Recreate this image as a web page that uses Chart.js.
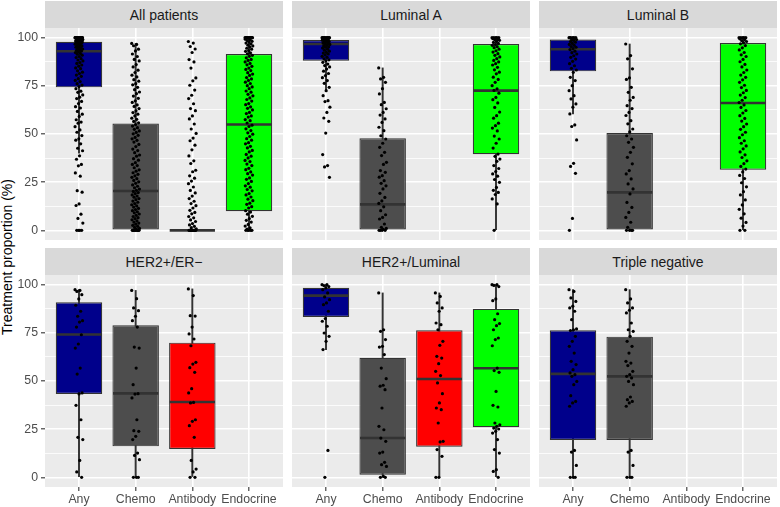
<!DOCTYPE html>
<html>
<head>
<meta charset="utf-8">
<script src="https://cdn.jsdelivr.net/npm/chart.js@4.4.0/dist/chart.umd.min.js"></script>
<style>
  html, body { margin: 0; padding: 0; background: #ffffff; }
  body { width: 780px; height: 507px; overflow: hidden; position: relative; font-family: "Liberation Sans", Arial, sans-serif; }
  .strip { position: absolute; background: #D9D9D9; color: #1A1A1A; font-size: 14px; display: flex; align-items: center; justify-content: center; }
  canvas { position: absolute; }
  #ytitle { position: absolute; left: 7px; top: 257px; transform: translate(-50%, -50%) rotate(-90deg); font-size: 14px; color: #000; white-space: nowrap; }
</style>
</head>
<body>
<div id="ytitle">Treatment proportion (%)</div>
<script>
// ---------------- DATA ----------------
const categories = ['Any', 'Chemo', 'Antibody', 'Endocrine'];
const panelTitles = ['All patients', 'Luminal A', 'Luminal B', 'HER2+/ER\u2212', 'HER2+/Luminal', 'Triple negative'];
const yMajorTicks = [0, 25, 50, 75, 100];
const yMinorTicks = [12.5, 37.5, 62.5, 87.5];

// box statistics per panel, per category (null = no data)
const boxQ1      = [[74.2, 0, 0, 9.9], [88.0, 0, null, 39.5], [82.5, 0, null, 31.5], [43.3, 16.1, 14.7, null], [83.2, 1.4, 15.9, 26.0], [19.4, 19.4, null, null]];
const boxMedian  = [[92.9, 20.4, 0, 54.9], [96.7, 13.5, null, 72.5], [94.0, 19.7, null, 66.1], [74.1, 43.6, 39.1, null], [94.3, 20.4, 51.0, 56.6], [53.7, 52.4, null, null]];
const boxQ3      = [[97.9, 55.4, 0, 91.5], [98.8, 47.8, null, 96.7], [99.0, 50.5, null, 97.2], [90.8, 78.9, 69.9, null], [98.4, 62.0, 76.3, 87.4], [76.3, 73.0, null, null]];
const whiskerLow = [[40, 0, 0, 0], [72, 0, null, 0], [60.4, 0, null, 0], [0, 0, 0, null], [66.3, 0, 0, 0], [0, 0, null, null]];
const whiskerHigh= [[100, 97, 0, 100], [100, 84.3, null, 100], [100, 96.7, null, 100], [97.4, 97, 97.8, null], [100, 95.7, 95.7, 100], [97.4, 97.4, null, null]];

const allAny = [100,100,100,100,100,100,100,100,100,100,100,100,100,100,100,100,100,100,
  99.6,99.3,99.1,99,98.8,98.7,98.5,98.4,98.2,98,98,97.8,97.6,97.3,97.1,96.9,96.6,96.2,95.9,95.7,95.3,95,94.8,94.4,94.1,93.8,93.4,93.1,92.7,92.3,91.8,91.4,90.9,90.2,89.7,89.1,88.4,87.9,87.1,86.6,85.8,85.2,84.3,83.9,82.8,82.1,81.4,80.6,79.9,78.7,77.8,77.2,76.1,75.4,74.6,73.5,72.2,71.6,70.3,69.1,68.4,66.9,65.8,64.2,63.5,61.7,60.3,59.1,57.4,56.2,55.6,53.8,52.1,50.9,49.2,47.5,46.8,44.9,42.6,41.3,38.7,36.9,34.2,33.5,29.8,28.1,20.6,19.8,13.7,12.9,8.4,6.2,3.8,0,0,0,0];
const allChemo = [97,96.5,95.8,94,93.1,91.5,90.2,88.7,87.9,86,84.8,83.1,81.9,80.5,79.6,78.2,77.4,76.1,75.5,74.2,73,71.8,70.9,69.7,68.5,67.2,66.4,65.1,64.3,63.2,62,61.1,60.3,59.4,58.2,57.6,56.5,55.8,54.9,54.1,53.3,52.4,51.6,50.8,50.1,49.3,48.2,47.5,46.7,45.8,44.6,43.5,42.2,41.4,40.3,39.1,38.5,37.2,36.4,35.1,34.2,33.6,32.5,31.4,30.7,29.9,29.1,28.3,27.5,26.8,25.9,25.2,24.4,23.6,22.9,22.1,21.4,20.8,20.2,19.6,19.1,18.4,17.8,17.2,16.5,15.9,15.2,14.6,13.9,13.3,12.7,12.1,11.4,10.8,10.2,9.6,9.1,8.5,7.8,7.2,6.6,6.1,5.5,4.9,4.3,3.8,3.2,2.6,2.1,1.5,1,0.5,0,0,0,0,0,0,0,0,0,0];
const allAntibody = [98,97.2,95.4,94.1,92.3,88.6,87.4,84.2,79.1,77.6,75.3,72.8,70.1,68.4,65.7,63.2,62.1,59.4,57.8,55.2,52.6,50.3,47.9,46.5,44.2,41.8,38.6,36.1,34.7,31.2,30.4,28.3,27.1,25.6,24.2,22.5,20.7,19.4,17.8,16.5,15.1,13.9,12.8,11.6,10.4,9.3,8.6,7.2,6.5,5.4,4.6,3.5,2.8,2.1,1.4,0.8,0,0,0,0,0,0,0,0,0,0,0,0];
const allEndocrine = [100,100,100,100,100,100,100,100,100,100,100,100,
  99.7,99.2,98.9,98.5,98.1,97.7,97.2,96.8,96.1,95.7,95.2,94.5,94,93.3,92.9,92.1,91.6,90.8,90.3,89.5,88.7,88.2,87.4,86.6,85.9,85.1,84.2,83.5,82.9,81.8,81.1,80.4,79.3,78.6,77.8,76.9,76.2,75.1,74.4,73.5,72.3,71.7,70.6,69.8,68.7,67.9,67.1,65.8,65.2,64.1,63.3,62.5,61.2,60.6,59.4,58.8,57.5,56.9,55.7,54.6,53.9,52.7,51.8,50.6,49.9,48.7,47.6,46.8,45.5,44.9,43.6,42.8,41.5,40.7,39.4,38.5,37.6,36.3,35.7,34.4,33.6,32.2,31.5,30.3,29.4,28.7,27.2,26.5,25.4,24.3,23.1,22.4,21.2,20.5,19.1,18.4,17.3,16.2,15.4,14.1,13.5,12.3,11.6,10.2,9.5,8.4,7.3,6.1,5.2,4.3,3.1,2.2,1.3,0.6,0,0,0,0,0];

const lumAAny = [100,100,100,100,100,100,100,100,100,99.5,99,99,99,98.7,98.5,98,98,97.6,97.2,97,96.8,96.5,96,95.7,95.2,95,94.6,94,93.5,93,92.4,92,91.5,91,90.3,89.8,89,88.5,88,87.2,86.3,85.5,84.8,83.7,82.6,81.4,80.3,79.2,77.7,76.3,74.2,72.5,69.9,67.3,66.8,63.9,61.2,58.3,56.6,50.5,39.3,33.6,32.9,27.5];
const lumAChemo = [84.3,79.4,78.6,76.8,73.5,70.8,66.4,65.2,63.1,61.2,59.8,57.8,56,53.5,51.7,49.1,47.4,45.2,43.1,40.5,38.8,35.3,34.2,31,30.1,28.4,27.6,25.8,24.4,23.1,21.5,19.2,17.1,15.3,14,12.2,10.2,8.1,6.7,5.9,3.3,1.6,1,0.5,0,0,0,0];
const lumAEndocrine = [100,100,100,100,100,99.5,99,99,98.6,98,97.5,97,96.4,96,95.3,94.8,94,93.2,92.5,91.7,90.8,90,89.1,88.2,87.4,86.5,85.8,84.6,83.3,82.1,81.2,79.5,78.3,76.8,75.1,73.4,72.6,71.2,69,67.8,66.1,63.8,61.4,59.5,58.2,55.6,54.3,53.1,51.6,48.9,47.4,45.2,42.7,39.6,38.4,37,35.8,33.6,32.1,30.5,29.3,28.1,26.4,24.9,22.3,20.8,19.7,18.6,16.3,13.7,0];

const lumBAny = [100,100,100,100,100,100,99.5,99,99,98.6,98,97.6,97,96.5,96,95.4,95,94.3,93.8,93,92.2,91.5,90.6,89.8,88.9,87.7,86.5,85.4,84.1,83.2,82,79.4,77.7,75.1,72.5,69.9,68.2,65.6,63.9,60.4,54.7,53.9,46.9,34.8,33.2,29.6,6.2,0];
const lumBChemo = [96.7,90.7,89,83.8,79.1,78.3,74.2,71.6,69,67.5,64.7,63.2,61.2,59.6,56.9,55.3,52.6,51.1,49.1,47.4,45.7,43.1,40.5,37.9,34.5,31,29.3,26.7,24.1,21.5,18.9,14.5,11.9,9.3,6.7,4.2,1.6,0,0,0,0];
const lumBEndocrine = [100,100,100,100,100,99.4,99,98.5,98,97.4,96.8,95.9,94.7,93.6,92.3,91.1,90.2,88.7,87.5,86.1,84.8,83.2,81.9,80.6,79.4,78.1,76.8,75.3,74.1,72.6,71.4,70.2,68.9,67.5,66.3,65.1,63.8,62.2,60.9,59.5,58.1,56.7,55.2,53.8,52.4,50.9,49.6,48.1,46.5,45.2,43.8,42.3,40.7,39.2,37.8,36.1,34.6,33.2,31.8,30.3,28.5,26.9,24.7,22.6,20.1,18.4,15.8,13.2,10.9,8.6,6.3,4.1,2.2,0,0];

const her2ErNegAny = [97.4,97,96.5,94.8,92.6,89.3,86.2,83.6,81.3,80.6,78,74,69.2,67.1,56.7,53.6,43.8,43.3,37.4,29.9,20.8,19.6,8.8,2.8,0];
const her2ErNegChemo = [97,92.7,87.9,86.5,83.6,81.3,78,67.6,67.1,56.7,48.1,43.4,43.2,41.2,29.9,24.2,23.9,21.3,19.6,12.6,11.4,9.2,0,0,0];
const her2ErNegAntibody = [97.8,94.3,83.9,83.7,78,74.4,71.8,68.3,59.7,58.8,56.9,54.5,46,43.8,38.9,38.6,29.9,29.1,26.8,20.8,8.8,4.3,2.8,0,0];

const her2LumAny = [100,100,99.5,99,98.3,97.4,95.7,93.6,92.2,90.5,89.6,86.2,82.4,81,78.4,74.9,73.2,70.6,66.3,14,0];
const her2LumChemo = [95.7,76.6,75.8,71.5,68,67.6,63.7,56.7,51.2,47.8,47.3,45.5,36,26.5,24.7,20.4,18.7,13.1,12.6,7.8,6.6,5.7,0.5,0,0];
const her2LumAntibody = [95.7,93.9,90.5,87.9,86.2,80.1,79.2,76.6,70.6,68.5,62.8,61.9,59,55,52.8,49,43.4,38.6,36,35.1,28.2,18.7,18.4,14.4,10.9,0,0];
const her2LumEndocrine = [100,100,99.6,99,92.6,91.7,84.9,81.8,79.8,78.7,76.6,72.3,71.5,68.3,56.7,55.4,54.5,44.6,37.4,36.5,28.2,27.3,26.5,25.6,25.1,23.9,23,19.6,14.4,12.6,4,3.1,0];

const tripleNegAny = [97.4,96.5,93.1,91.3,88.8,87.9,86.2,81.8,77,76.6,76.2,73.2,70.6,68,64.5,60.2,58.5,55.9,54.2,53.3,52.4,49.8,48.1,42.4,39.4,38.6,36.9,14,13.1,6.2,0,0,0];
const tripleNegChemo = [97.4,92.6,90.5,87.9,86.7,85.3,80.1,76.6,75.8,73.2,70.6,68,64.5,60.2,59.3,58,55,53.3,52.4,51.6,49.8,48.1,41.7,40.3,39.4,38.6,36.9,14,13.1,6.2,0,0,0];

const panelPoints = [
  [allAny, allChemo, allAntibody, allEndocrine],
  [lumAAny, lumAChemo, null, lumAEndocrine],
  [lumBAny, lumBChemo, null, lumBEndocrine],
  [her2ErNegAny, her2ErNegChemo, her2ErNegAntibody, null],
  [her2LumAny, her2LumChemo, her2LumAntibody, her2LumEndocrine],
  [tripleNegAny, tripleNegChemo, null, null]
];

// ---------------- STYLE / LAYOUT ----------------
const fillColors = ['#00008B', '#4D4D4D', '#FF0000', '#00FF00'];
const lineColor = '#333333';
const colLeft = [45, 292, 539];
const panelW = 238;
const stripTop = [1, 248];
const stripH = 27;
const panelTop = [28, 275];
const panelH = 212;
const xBottomH = 20;
const yAxisW = 45;
const BOX_WIDTH = 0.82;
const JITTER_WIDTH = 0.14;
const tickFont = { family: 'Liberation Sans', size: 12.3, lineHeight: 1 };

function jitter(i) {
  // deterministic horizontal spread (golden-ratio sequence)
  return (((i * 0.6180339887) % 1) - 0.5) * JITTER_WIDTH;
}

const panelBg = {
  id: 'panelBg',
  beforeDraw(chart) {
    const a = chart.chartArea, c = chart.ctx;
    c.save();
    c.fillStyle = '#EBEBEB';
    c.fillRect(a.left, a.top, a.right - a.left, a.bottom - a.top);
    c.restore();
  }
};

const allYTicks = yMajorTicks.concat(yMinorTicks).sort((a, b) => a - b);
const isMajorY = v => yMajorTicks.indexOf(v) !== -1;

function buildPanel(p) {
  const col = p % 3, row = Math.floor(p / 3);
  const left = col === 0 ? 0 : colLeft[col];
  const width = col === 0 ? colLeft[0] + panelW : panelW;
  const height = panelH + (row === 1 ? xBottomH : 0);

  const strip = document.createElement('div');
  strip.className = 'strip';
  strip.style.left = colLeft[col] + 'px';
  strip.style.top = stripTop[row] + 'px';
  strip.style.width = panelW + 'px';
  strip.style.height = stripH + 'px';
  strip.textContent = panelTitles[p];
  document.body.appendChild(strip);

  const cv = document.createElement('canvas');
  cv.width = width; cv.height = height;
  cv.style.left = left + 'px';
  cv.style.top = panelTop[row] + 'px';
  cv.style.width = width + 'px';
  cv.style.height = height + 'px';
  document.body.appendChild(cv);

  const whiskerData = [], boxData = [], boxColors = [], medianData = [], pointData = [];
  categories.forEach((cat, g) => {
    if (boxMedian[p][g] === null) return;
    const x = g + 1;
    whiskerData.push({ x: x, y: [whiskerLow[p][g], whiskerHigh[p][g]] });
    boxData.push({ x: x, y: [boxQ1[p][g], boxQ3[p][g]] });
    boxColors.push(fillColors[g]);
    medianData.push({ x: x, y: boxMedian[p][g] });
    (panelPoints[p][g] || []).forEach((v, i) => pointData.push({ x: x + jitter(i), y: v }));
  });

  new Chart(cv, {
    type: 'bar',
    data: {
      datasets: [
        { type: 'scatter', data: pointData, pointRadius: 1.6, pointBackgroundColor: '#000000', pointBorderWidth: 0, order: 1 },
        { type: 'scatter', data: medianData, pointStyle: 'line',
          pointRadius: (c) => { const s = c.chart.scales.x; return Math.abs(s.getPixelForValue(1 + BOX_WIDTH / 2) - s.getPixelForValue(1)) - 0.6; },
          pointBorderColor: lineColor, pointBorderWidth: 2.6, order: 2 },
        { type: 'bar', data: boxData, backgroundColor: boxColors, borderColor: lineColor, borderWidth: 1.2, borderSkipped: false,
          categoryPercentage: 1, barPercentage: BOX_WIDTH, grouped: false, order: 3 },
        { type: 'bar', data: whiskerData, backgroundColor: lineColor, borderWidth: 0, barThickness: 1.3, grouped: false, order: 4 }
      ]
    },
    options: {
      responsive: false, animation: false, devicePixelRatio: 1,
      layout: { padding: 0, autoPadding: false },
      plugins: { legend: { display: false }, tooltip: { enabled: false } },
      scales: {
        x: {
          type: 'linear', min: 0.4, max: 4.6, offset: false,
          afterBuildTicks: (s) => { s.ticks = categories.map((c, i) => ({ value: i + 1 })); },
          afterFit: (s) => { s.height = row === 1 ? xBottomH : 0; },
          ticks: { display: row === 1, autoSkip: false, maxRotation: 0, minRotation: 0, padding: 2, color: '#4D4D4D', font: tickFont,
                   callback: (v) => categories[Math.round(v) - 1] },
          grid: { offset: false, color: '#FFFFFF', lineWidth: 1.6, drawTicks: row === 1, tickLength: 4, tickColor: lineColor, tickWidth: 1.1 },
          border: { display: false }
        },
        y: {
          type: 'linear', min: -5, max: 105,
          afterBuildTicks: (s) => { s.ticks = allYTicks.map(v => ({ value: v })); },
          afterFit: (s) => { s.width = col === 0 ? yAxisW : 0; s.paddingTop = 0; s.paddingBottom = 0; },
          ticks: { display: col === 0, padding: 3, color: '#4D4D4D', font: tickFont,
                   callback: (v) => isMajorY(v) ? String(v) : '' },
          grid: { color: '#FFFFFF',
                  lineWidth: (c) => (c.tick && isMajorY(c.tick.value)) ? 1.6 : 0.8,
                  drawTicks: col === 0, tickLength: 4, tickWidth: 1.1,
                  tickColor: (c) => (c.tick && isMajorY(c.tick.value)) ? lineColor : 'rgba(0,0,0,0)' },
          border: { display: false }
        }
      }
    },
    plugins: [panelBg]
  });
}

for (let p = 0; p < panelTitles.length; p++) buildPanel(p);
</script>
</body>
</html>
